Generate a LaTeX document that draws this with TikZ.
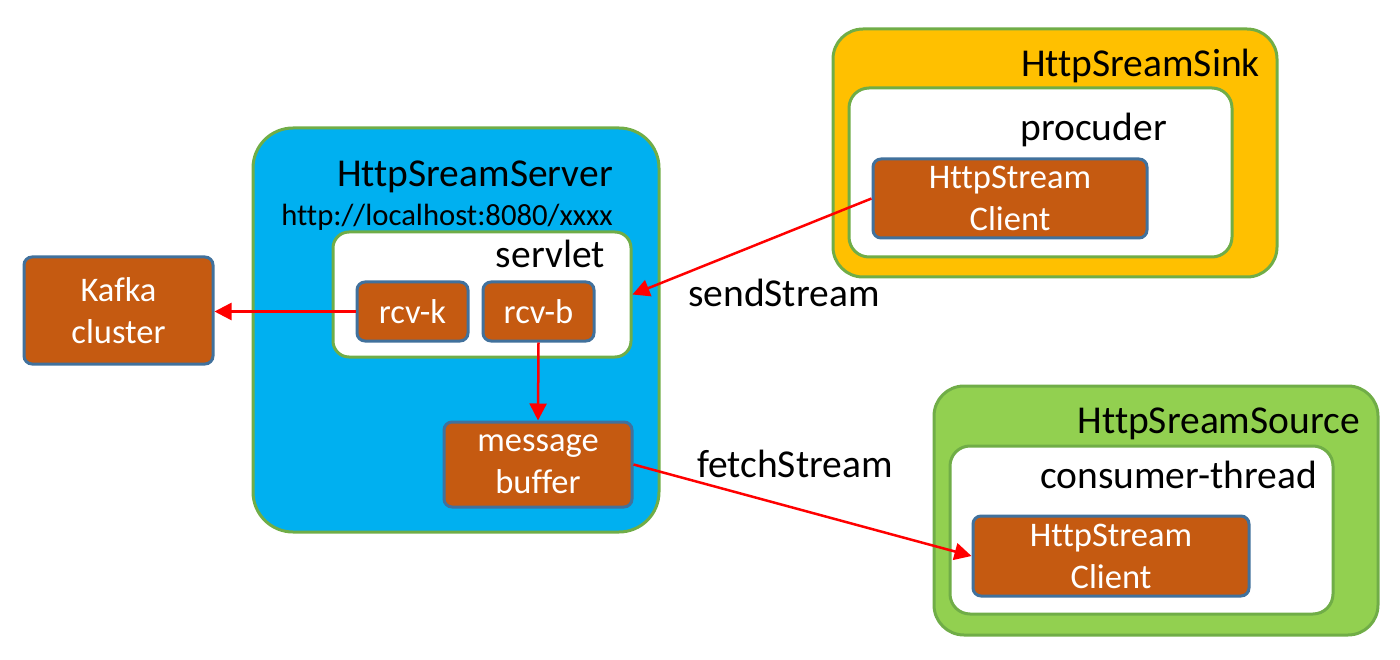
\documentclass[tikz,border=0pt]{standalone}
\usepackage{fontspec}
\setmainfont[Ligatures=NoCommon]{Carlito}
\usetikzlibrary{arrows.meta}
\definecolor{srvblue}{HTML}{00B0F0}
\definecolor{sinkyellow}{HTML}{FFC000}
\definecolor{srcgreen}{HTML}{92D050}
\definecolor{edgegreen}{HTML}{70AD47}
\definecolor{unitorange}{HTML}{C55A11}
\definecolor{unitedge}{HTML}{41719C}
\begin{document}
\begin{tikzpicture}[x=1pt,y=-1pt,
  outer/.style={draw=edgegreen,line width=3pt,rounded corners=#1,inner sep=0pt},
  inner/.style={draw=edgegreen,fill=white,line width=3pt,rounded corners=#1,inner sep=0pt},
  unit/.style={draw=unitedge,fill=unitorange,line width=3pt,rounded corners=8pt,inner sep=0pt,
    text=white,align=center,font=\fontsize{34.5}{42}\selectfont},
  title/.style={anchor=base east,inner sep=0pt,font=\fontsize{39.5}{47}\selectfont},
  label/.style={anchor=base west,inner sep=0pt,font=\fontsize{39.5}{47}\selectfont},
  flow/.style={red,line width=2.5pt,-{Triangle[length=17pt,width=17pt]}}]
\useasboundingbox (0,0) rectangle (1400,660);

\node[outer=40pt,fill=srvblue,minimum width=406pt,minimum height=404pt] (server) at(456,330){};
\node[title] (servertitle) at(613,187){HttpSreamServer};
\node[title,font=\fontsize{30.7}{36}\selectfont] (serverurl) at(613,226){http://localhost:8080/xxxx};
\node[inner=16pt,minimum width=298pt,minimum height=125pt] (servlet) at(482,294.5){};
\node[title] (servlettitle) at(605,268){servlet};
\node[unit,minimum width=111pt,minimum height=59pt] (rcvk) at(412.5,311.5){rcv-k};
\node[unit,minimum width=111pt,minimum height=59pt] (rcvb) at(538.5,311.5){rcv-b};
\node[unit,minimum width=188pt,minimum height=85pt] (buffer) at(538,464.5){message\\buffer};

\node[unit,minimum width=189pt,minimum height=107pt] (kafka) at(118.5,310.5){Kafka\\cluster};

\node[outer=30pt,fill=sinkyellow,minimum width=444pt,minimum height=248pt] (sink) at(1055,153){};
\node[title] (sinktitle) at(1260,77){HttpSreamSink};
\node[inner=20pt,minimum width=383pt,minimum height=169pt] (producer) at(1040.5,172.5){};
\node[title] (producertitle) at(1167,141){procuder};
\node[unit,minimum width=274pt,minimum height=79pt] (sinkclient) at(1010,198.5){HttpStream\\Client};

\node[outer=30pt,fill=srcgreen,minimum width=444pt,minimum height=249pt] (source) at(1156,510.5){};
\node[title] (sourcetitle) at(1360,433){HttpSreamSource};
\node[inner=20pt,minimum width=383pt,minimum height=168pt] (consumer) at(1141.5,530){};
\node[title] (consumertitle) at(1317,488){consumer-thread};
\node[unit,minimum width=276pt,minimum height=80pt] (sourceclient) at(1111,556){HttpStream\\Client};

\draw[flow] (rcvk.west) -- (rcvk.west -| kafka.east);
\draw[flow] (rcvb.south) -- (buffer.north);
\draw[flow] (sinkclient.west) -- (servlet.east);
\draw[flow] (buffer.east) -- (sourceclient.west);

\node[label] (sendlabel) at(688,307){sendStream};
\node[label] (fetchlabel) at(697,477){fetchStream};
\end{tikzpicture}
\end{document}
